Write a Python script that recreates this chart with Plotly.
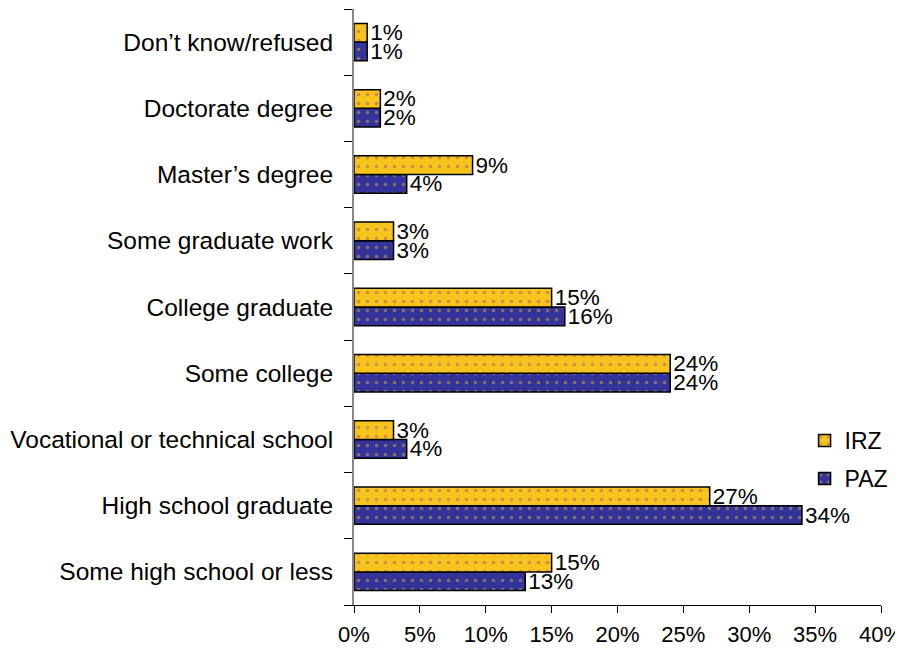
import plotly.graph_objects as go

categories = ["Some high school or less", "High school graduate", "Vocational or technical school",
              "Some college", "College graduate", "Some graduate work", "Master’s degree",
              "Doctorate degree", "Don’t know/refused"]
irz = [15, 27, 3, 24, 15, 3, 9, 2, 1]
paz = [13, 34, 4, 24, 16, 3, 4, 2, 1]
x_ticks = [0, 5, 10, 15, 20, 25, 30, 35, 40]

fig = go.Figure()
fig.add_trace(go.Bar(
    y=categories, x=paz, name="PAZ", orientation="h", legendgroup="b",
    marker=dict(color="#333399", line=dict(color="black", width=1.5),
                pattern=dict(shape=".", fgcolor="#D4B040", size=9, solidity=0.12)),
    text=[f"{v}%" for v in paz], textposition="outside", constraintext="none",
    textfont=dict(size=22.5, color="black"), cliponaxis=False, legendrank=2))
fig.add_trace(go.Bar(
    y=categories, x=irz, name="IRZ", orientation="h", legendgroup="a",
    marker=dict(color="#F7C41E", line=dict(color="black", width=1.5),
                pattern=dict(shape=".", fgcolor="#B05070", size=9, solidity=0.12)),
    text=[f"{v}%" for v in irz], textposition="outside", constraintext="none",
    textfont=dict(size=22.5, color="black"), cliponaxis=False, legendrank=1))

fig.update_layout(
    width=895, height=643,
    margin=dict(l=346, r=22, t=1, b=46),
    barmode="group", bargap=0.435, bargroupgap=0,
    plot_bgcolor="white", paper_bgcolor="white",
    font=dict(family="Liberation Sans, Arial, sans-serif", size=23, color="black"),
    legend=dict(x=0.855, y=0.312, xanchor="left", yanchor="top", itemwidth=30,
                font=dict(size=23), bgcolor="rgba(0,0,0,0)", tracegroupgap=5),
    showlegend=True,
)
fig.update_xaxes(range=[0, 40], tickvals=x_ticks, ticktext=[f"{v}%" for v in x_ticks],
                 showgrid=False, zeroline=False, showline=True, linecolor="black",
                 linewidth=1, ticks="outside", ticklen=7, tickcolor="black",
                 tickfont=dict(size=22), ticklabelstandoff=3, automargin=False,
                 ticklabeloverflow="allow")
fig.update_yaxes(categoryorder="array", categoryarray=categories,
                 showgrid=False, showline=True, linecolor="#888888", linewidth=2,
                 ticks="outside", tickson="boundaries", ticklen=8, tickcolor="black",
                 tickfont=dict(size=24.5), ticklabelstandoff=14, automargin=False)
fig.write_html("out.html")
